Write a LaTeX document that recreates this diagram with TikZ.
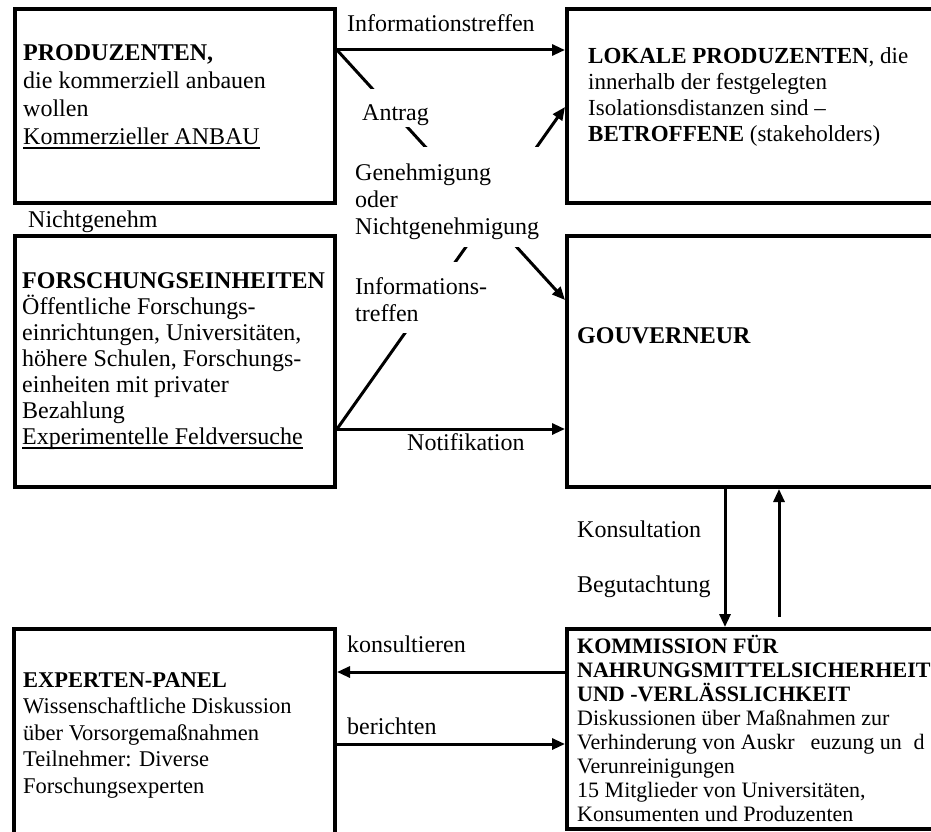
\documentclass[tikz,border=0pt]{standalone}
\usepackage{fontspec}
\setmainfont{Liberation Serif}
\usetikzlibrary{arrows.meta}
\newcommand{\myul}[1]{\setbox0\hbox{#1}\rlap{\rule[-4.5pt]{\wd0}{1.3pt}}\box0}
\begin{document}
\begin{tikzpicture}[x=1pt,y=-1pt,
  box/.style={draw, line width=4pt, rectangle, inner sep=0pt},
  arr/.style={line width=3pt, -{Triangle[length=13pt,width=11pt]}},
  btext/.style={anchor=north west, align=left, inner sep=0pt, font=\fontsize{24}{28}\selectfont},
  lab/.style={anchor=base west, inner sep=0pt, font=\fontsize{24}{27}\selectfont},
  gaplab/.style={anchor=north west, align=left, fill=white, inner xsep=5pt, inner ysep=0pt, font=\fontsize{24}{27}\selectfont}
]
\useasboundingbox (0,0) rectangle (931,832);
\clip (0,0) rectangle (931,832);

% boxes
\node[box, minimum width=320pt, minimum height=194pt] (prod) at (175,106) {};
\node[box, minimum width=373pt, minimum height=194pt] (lok) at (753.5,106) {};
\node[box, minimum width=320pt, minimum height=251pt] (forsch) at (175,361.5) {};
\node[box, minimum width=373pt, minimum height=251pt] (gov) at (753.5,361.5) {};
\node[box, minimum width=321pt, minimum height=211pt] (exp) at (174.5,734.5) {};
\node[box, minimum width=373pt, minimum height=200pt] (komm) at (753.5,729) {};

% box texts
\node[btext] (tprod) at (23,44) {\textbf{PRODUZENTEN,}\\die kommerziell anbauen\\wollen\\\myul{Kommerzieller ANBAU}};
\node[btext, font=\fontsize{23}{26}\selectfont] (tlok) at (588,47) {\textbf{LOKALE PRODUZENTEN}, die\\innerhalb der festgelegten\\Isolationsdistanzen sind --\\\textbf{BETROFFENE} (stakeholders)};
\node[btext, font=\fontsize{24}{26}\selectfont] (tforsch) at (22,272) {\textbf{FORSCHUNGSEINHEITEN}\\Öffentliche Forschungs-\\einrichtungen, Universitäten,\\höhere Schulen, Forschungs-\\einheiten mit privater\\Bezahlung\\\myul{Experimentelle Feldversuche}};
\node[btext] (tgov) at (577,327) {\textbf{GOUVERNEUR}};
\node[btext, font=\fontsize{22}{24}\selectfont] (tkomm) at (577,635) {\textbf{KOMMISSION FÜR}\\\textbf{NAHRUNGSMITTELSICHERHEIT}\\\textbf{UND -VERLÄSSLICHKEIT}\\Diskussionen über Maßnahmen zur\\Verhinderung von Auskr\hspace{16pt}euzung un\hspace{12pt}d\\Verunreinigungen\\15 Mitglieder von Universitäten,\\Konsumenten und Produzenten};
\node[btext, font=\fontsize{22.5}{26.5}\selectfont] (texp) at (23,672) {\textbf{EXPERTEN-PANEL}\\Wissenschaftliche Diskussion\\über Vorsorgemaßnahmen\\Teilnehmer: Diverse\\Forschungsexperten};

% connector anchors
\coordinate (s1) at (prod.east |- 0,50);
\coordinate (s2) at (forsch.east |- 0,429);
\coordinate (e2) at (gov.west |- 0,300);
\coordinate (e4) at (lok.west |- 0,107);
\coordinate (up) at (779,617);

% connectors
\draw[arr] (s1) -- (lok.west |- s1);
\draw[arr] (s1) -- (e2);
\draw[arr] (s2) -- (gov.west |- s2);
\draw[arr] (s2) -- (e4);
\draw[arr] (gov.south -| 725,0) -- (komm.north -| 725,0);
\draw[arr] (up) -- (gov.south -| up);
\draw[arr] (komm.west |- 0,672) -- (exp.east |- 0,672);
\draw[arr] (exp.east |- 0,744) -- (komm.west |- 0,744);

% labels
\node[lab] (l1) at (347,32) {Informationstreffen};
\node[lab] (l2) at (28,227) {Nichtgenehm};
\node[lab] (l3) at (407,450) {Notifikation};
\node[lab] (l4) at (577,537) {Konsultation};
\node[lab] (l5) at (577,592) {Begutachtung};
\node[lab] (l6) at (347,652) {konsultieren};
\node[lab] (l7) at (347,734) {berichten};
\node[gaplab] (g1) at (357,89) {\rule{0pt}{31pt}Antrag\rule[-7pt]{0pt}{1pt}};
\node[gaplab] (g2) at (350,147) {\rule{0pt}{33pt}Genehmigung\\oder\\Nichtgenehmigung\rule[-13pt]{0pt}{1pt}};
\node[gaplab] (g3) at (350,262) {\rule{0pt}{32pt}Informations-\\treffen\rule[-12pt]{0pt}{1pt}};
\end{tikzpicture}
\end{document}
